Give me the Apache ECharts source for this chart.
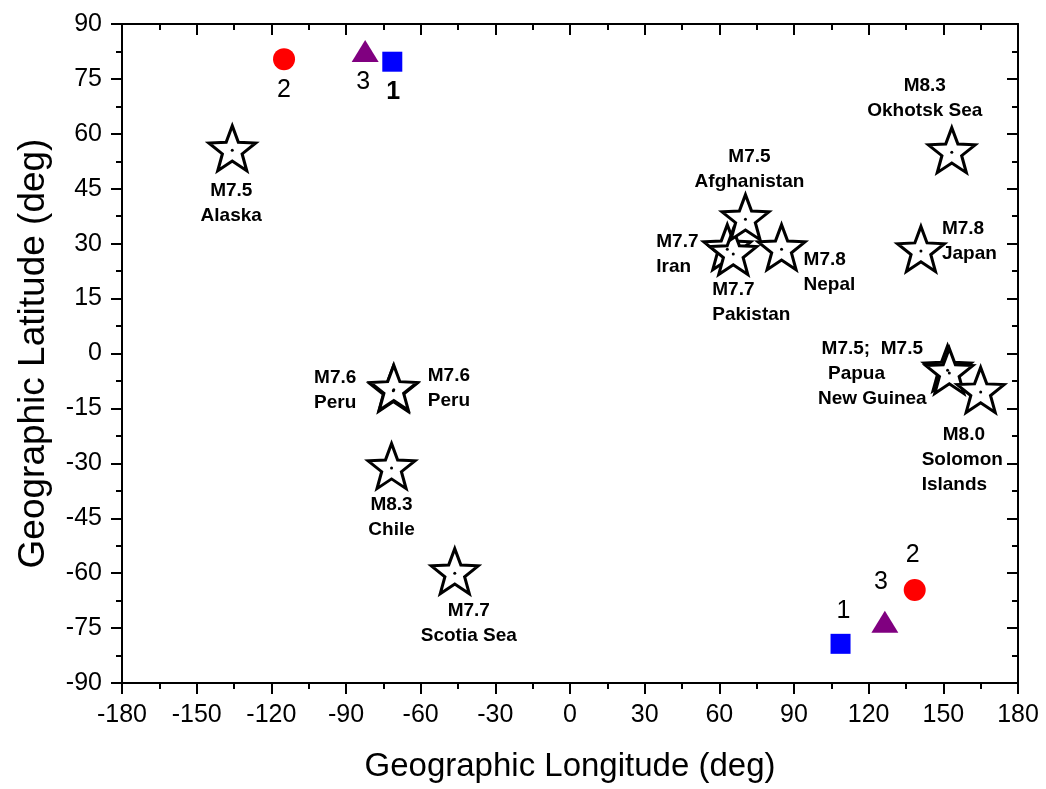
<!DOCTYPE html>
<html>
<head>
<meta charset="utf-8">
<script src="https://cdn.jsdelivr.net/npm/echarts@6/dist/echarts.min.js"></script>
<style>
html, body { margin: 0; padding: 0; background: #fff; }
#chart { width: 1046px; height: 789px; }
</style>
</head>
<body>
<div id="chart"></div>
<script>
//坐标刻度
var lonTicks = [-180, -150, -120, -90, -60, -30, 0, 30, 60, 90, 120, 150, 180];
var latTicks = [-90, -75, -60, -45, -30, -15, 0, 15, 30, 45, 60, 75, 90];

//地震 (经度, 纬度, 标注)
var quakeNames = ['Alaska', 'PeruA', 'PeruB', 'Chile', 'Scotia', 'Iran', 'Pakistan', 'Afghanistan', 'Nepal', 'Japan', 'Okhotsk', 'PNG2', 'PNG1', 'Solomon'];
var quakeLon   = [-135.7, -71.0, -70.8, -71.7, -46.3, 63.2, 65.6, 70.5, 85.0, 141.0, 153.4, 151.7, 152.4, 165.0];
var quakeLat   = [55.5, -10.2, -9.9, -31.3, -60.0, 28.5, 27.2, 36.7, 28.5, 28.0, 55.0, -4.6, -5.3, -10.5];
var quakeText  = [
    'M7.5\nAlaska', 'M7.6\nPeru', 'M7.6\nPeru', 'M8.3\nChile', 'M7.7\nScotia Sea',
    'M7.7\nIran', 'M7.7\nPakistan', 'M7.5\nAfghanistan', 'M7.8\nNepal', 'M7.8\nJapan',
    'M8.3\nOkhotsk Sea', '', 'M7.5;  M7.5\nPapua      \nNew Guinea', '    M8.0\nSolomon\nIslands'
];

//卫星标记 1 / 2 / 3 (上方, 下方)
var sat1Lon = [-71.4, 108.7];
var sat1Lat = [79.7, -79.3];
var sat2Lon = [-114.9, 138.5];
var sat2Lat = [80.4, -64.6];
var sat3Lon = [-82.3, 126.5];
var sat3Lat = [82.6, -73.3];

//标注位置 [dx, dy, 对齐]
var quakeLabelPos = {
    'Alaska'      : [-1, 53, 'center'],
    'PeruA'       : [-37, -1, 'right'],
    'PeruB'       : [34, -1, 'left'],
    'Chile'       : [0, 49, 'center'],
    'Scotia'      : [14, 50, 'center'],
    'Iran'        : [-71, 5, 'left'],
    'Pakistan'    : [-21, 48, 'left'],
    'Afghanistan' : [4, -50, 'center'],
    'Nepal'       : [22, 23, 'left'],
    'Japan'       : [21, -10, 'left'],
    'Okhotsk'     : [-27, -54, 'center'],
    'PNG2'        : [0, 0, 'center'],
    'PNG1'        : [-77, 1, 'center'],
    'Solomon'     : [-59, 68, 'left']
};
var satLabelPos = {
    1 : [[1, 30], [3, -33]],
    2 : [[0, 31], [-2, -35]],
    3 : [[-2, 31], [-4, -40]]
};

var FONT = '"Liberation Sans", Arial, sans-serif';

//五角星路径
function starPath() {
    var pts = [];
    for (var i = 0; i < 10; i++) {
        var a = (-90 + i * 36) * Math.PI / 180;
        var r = i % 2 ? 42 : 100;
        pts.push((100 + r * Math.cos(a)).toFixed(2) + ' ' + (100 + r * Math.sin(a)).toFixed(2));
    }
    return 'path://M' + pts.join(' L') + ' Z';
}
var STAR = starPath();

var series = [];

//星标 (白底黑边)
for (var i = 0; i < quakeNames.length; i++) {
    series.push({
        type: 'scatter',
        symbol: STAR,
        symbolSize: [47, 45],
        symbolOffset: [0, -2],
        itemStyle: { color: '#fff', borderColor: '#000', borderWidth: 3, opacity: 1 },
        z: 2 + i * 0.01,
        silent: true,
        data: [[quakeLon[i], quakeLat[i]]]
    });
}

//星心小点 + 文字
series.push({
    type: 'scatter',
    symbol: 'circle',
    symbolSize: 3,
    itemStyle: { color: '#000', opacity: 1 },
    z: 5,
    silent: true,
    data: quakeNames.map(function (n, i) {
        var p = quakeLabelPos[n];
        return {
            value: [quakeLon[i], quakeLat[i]],
            label: {
                show: quakeText[i] !== '',
                formatter: quakeText[i],
                position: 'inside',
                offset: [p[0], p[1]],
                align: p[2],
                verticalAlign: 'middle',
                color: '#000',
                fontFamily: FONT,
                fontWeight: 'bold',
                fontSize: 19,
                lineHeight: 25
            }
        };
    })
});

function satSeries(id, lon, lat, symbol, size, color) {
    return {
        type: 'scatter',
        symbol: symbol,
        symbolSize: size,
        itemStyle: { color: color, opacity: 1 },
        z: 6,
        silent: true,
        data: lon.map(function (x, k) {
            var p = satLabelPos[id][k];
            return {
                value: [x, lat[k]],
                label: {
                    show: true,
                    formatter: String(id),
                    position: 'inside',
                    offset: p,
                    align: 'center',
                    verticalAlign: 'middle',
                    color: '#000',
                    fontFamily: FONT,
                    fontSize: 25,
                    fontWeight: (id === 1 && k === 0) ? 'bold' : 'normal'
                }
            };
        })
    };
}
series.push(satSeries(1, sat1Lon, sat1Lat, 'rect', 20, '#0000ff'));
series.push(satSeries(2, sat2Lon, sat2Lat, 'circle', 22, '#ff0000'));
series.push(satSeries(3, sat3Lon, sat3Lat, 'triangle', [27, 22], '#800080'));

function axisBase(ticks, pos, main) {
    return {
        type: 'value',
        position: pos,
        min: ticks[0],
        max: ticks[ticks.length - 1],
        interval: ticks[1] - ticks[0],
        axisLine: { show: true, onZero: false, lineStyle: { color: '#000', width: 2 } },
        axisTick: { show: true, inside: !main, length: 11, lineStyle: { color: '#000', width: 2 } },
        minorTick: { show: true, splitNumber: 2, length: 6, lineStyle: { color: '#000', width: 2 } },
        splitLine: { show: false },
        minorSplitLine: { show: false },
        axisLabel: {
            show: main,
            color: '#000',
            fontFamily: FONT,
            fontSize: 25,
            margin: 20
        }
    };
}

var xMain = axisBase(lonTicks, 'bottom', true);
xMain.name = 'Geographic Longitude (deg)';
xMain.nameLocation = 'middle';
xMain.nameGap = 67;
xMain.nameTextStyle = { color: '#000', fontFamily: FONT, fontSize: 33 };

var yMain = axisBase(latTicks, 'left', true);
yMain.name = 'Geographic Latitude (deg)';
yMain.nameLocation = 'middle';
yMain.nameGap = 70;
yMain.nameTextStyle = { color: '#000', fontFamily: FONT, fontSize: 37 };

var chart = echarts.init(document.getElementById('chart'), null, { renderer: 'canvas' });
chart.setOption({
    backgroundColor: '#fff',
    animation: false,
    grid: { left: 122, right: 28, top: 24, bottom: 106, containLabel: false },
    xAxis: [xMain, axisBase(lonTicks, 'top', false)],
    yAxis: [yMain, axisBase(latTicks, 'right', false)],
    series: series
});
</script>
</body>
</html>
